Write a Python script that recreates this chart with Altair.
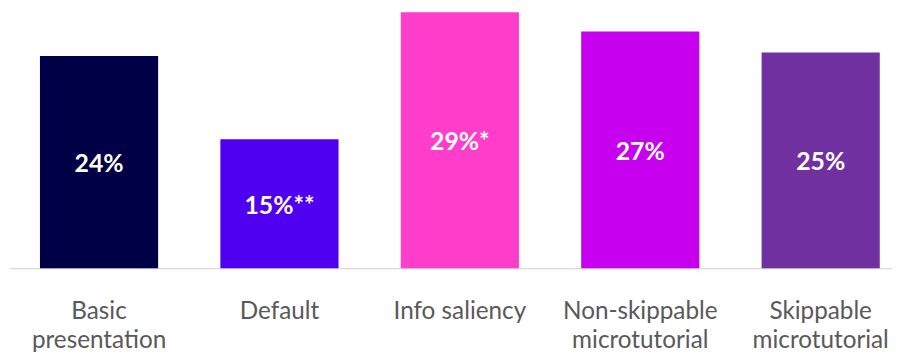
import altair as alt
import pandas as pd

categories = ["Basic presentation", "Default", "Info saliency",
              "Non-skippable microtutorial", "Skippable microtutorial"]
axis_lines = [["Basic", "presentation"], ["Default"], ["Info saliency"],
              ["Non-skippable", "microtutorial"], ["Skippable", "microtutorial"]]
values = [24.2, 14.7, 29.2, 27.0, 24.6]
labels = ["24%", "15%**", "29%*", "27%", "25%"]
colors = ["#000046", "#4F00F0", "#FF3DCB", "#C800F0", "#7030A0"]

df = pd.DataFrame({"cat": categories, "val": values, "lab": labels})
df["mid"] = df["val"] / 2

# labelExpr mapping category -> list of lines
parts = []
for c, lines in zip(categories, axis_lines):
    arr = "[" + ",".join("'" + s + "'" for s in lines) + "]"
    parts.append(f"datum.label == '{c}' ? {arr} : ")
label_expr = "".join(parts) + "datum.label"

x = alt.X("cat:N", sort=categories, title=None,
          scale=alt.Scale(paddingInner=0.345, paddingOuter=0.117, align=0.71),
          axis=alt.Axis(labelAngle=0, labelExpr=label_expr, labelFont="Lato",
                        labelFontSize=24.5, labelColor="#595959", labelLineHeight=29,
                        labelPadding=32, ticks=False, tickSize=0,
                        domainColor="#D9D9D9", domainWidth=1.3, labelLimit=300))

bars = alt.Chart(df).mark_bar().encode(
    x=x,
    y=alt.Y("val:Q", scale=alt.Scale(domain=[0, 29.5], nice=False), axis=None),
    color=alt.Color("cat:N", sort=categories,
                    scale=alt.Scale(domain=categories, range=colors), legend=None),
)

text = alt.Chart(df).mark_text(font="Lato", fontWeight="bold", fontSize=25,
                               color="white", baseline="middle", dy=2).encode(
    x=alt.X("cat:N", sort=categories),
    y=alt.Y("mid:Q"),
    text="lab:N",
)

chart = (bars + text).properties(
    width=890, height=261,
    autosize=alt.AutoSizeParams(type="none"),
    padding={"left": 2, "top": 0, "right": 0, "bottom": 85},
).configure_view(stroke=None).configure_axis(grid=False)

chart.save("out.html", embed_options={"renderer": "svg", "actions": False})
